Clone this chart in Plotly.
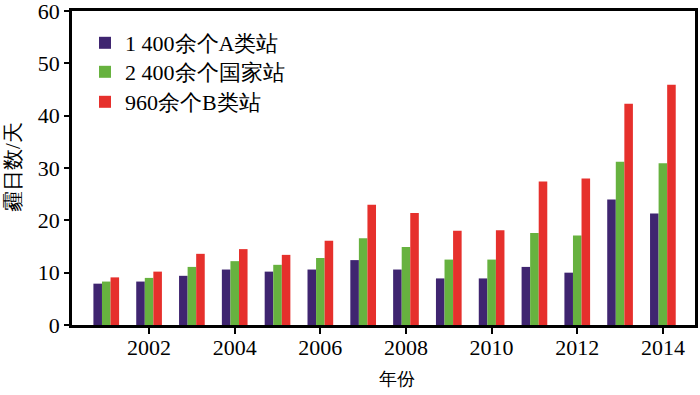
import plotly.graph_objects as go

years = list(range(2001, 2015))
series_a = [7.9, 8.3, 9.4, 10.6, 10.2, 10.6, 12.4, 10.6, 8.9, 8.9, 11.1, 10.0, 24.0, 21.3]
series_national = [8.3, 9.0, 11.1, 12.2, 11.5, 12.8, 16.6, 14.9, 12.5, 12.5, 17.6, 17.1, 31.2, 30.9]
series_b = [9.1, 10.2, 13.6, 14.5, 13.4, 16.1, 23.0, 21.4, 18.0, 18.1, 27.4, 28.0, 42.3, 45.9]
names = ["1 400余个A类站", "2 400余个国家站", "960余个B类站"]
colors = ["#3f2570", "#67b23f", "#e6302c"]
tick_years = [2002, 2004, 2006, 2008, 2010, 2012, 2014]

font_family = "Liberation Serif, serif"

W, H = 700, 395
ML, MR, MT, MB = 72, 5, 11, 70
pw = W - ML - MR
ph = H - MT - MB

legend_ids = ["legend", "legend2", "legend3"]
legend_rows_px = [43, 72, 102]

fig = go.Figure()
for name, vals, col, lid in zip(names, [series_a, series_national, series_b], colors, legend_ids):
    fig.add_trace(go.Bar(x=years, y=vals, name=name, legend=lid,
                         marker=dict(color=col, line=dict(width=0))))

legend_common = dict(xanchor="left", yanchor="middle", font=dict(size=22),
                     bgcolor="rgba(0,0,0,0)", itemwidth=30)
layout_legends = {}
for lid, row in zip(legend_ids, legend_rows_px):
    layout_legends[lid] = dict(x=(85 - ML) / pw, y=(H - MB - row) / ph, **legend_common)

fig.update_layout(
    width=W, height=H,
    margin=dict(l=ML, r=MR, t=MT, b=MB),
    plot_bgcolor="white", paper_bgcolor="white",
    barmode="group", bargap=0.4, bargroupgap=0,
    font=dict(family=font_family, size=22, color="black"),
    showlegend=True,
    **layout_legends,
)
fig.update_xaxes(
    range=[2000.2, 2014.75], tickmode="array", tickvals=tick_years,
    ticktext=[str(y) for y in tick_years],
    showline=True, linecolor="black", linewidth=2.5, mirror=True,
    ticks="outside", ticklen=6, tickwidth=2, tickcolor="black",
    showgrid=False, zeroline=False, ticklabeloverflow="allow",
    automargin=False, ticklabelstandoff=-5,
)
fig.update_yaxes(
    range=[0, 60], tickvals=[0, 10, 20, 30, 40, 50, 60],
    showline=True, linecolor="black", linewidth=2.5, mirror=True,
    ticks="outside", ticklen=5, tickwidth=2, tickcolor="black",
    showgrid=False, zeroline=False, ticklabeloverflow="allow",
    automargin=False,
)
fig.add_annotation(text="霾日数/天", x=(13 - ML) / pw, y=(H - MB - 167) / ph,
                   xref="paper", yref="paper", xanchor="center", yanchor="middle",
                   showarrow=False, textangle=-90, font=dict(size=21))
fig.add_annotation(text="年份", x=(397 - ML) / pw, y=(H - MB - 379) / ph,
                   xref="paper", yref="paper", xanchor="center", yanchor="middle",
                   showarrow=False, font=dict(size=18))

fig.write_html("out.html", config={"displayModeBar": False},
               post_script="document.body.style.margin='0';document.body.style.overflow='hidden';")
